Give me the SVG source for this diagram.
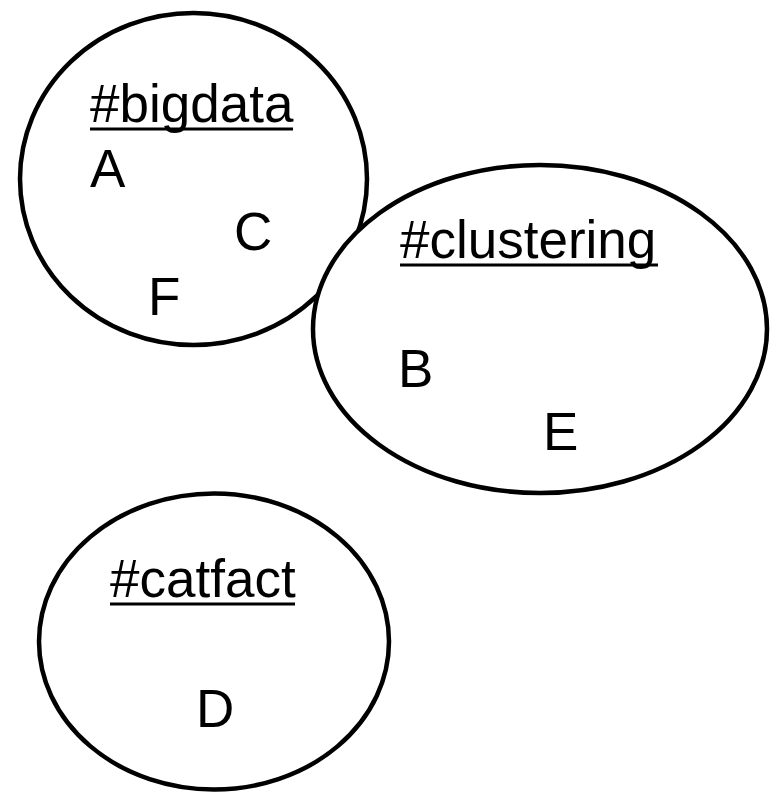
<svg xmlns="http://www.w3.org/2000/svg" width="776" height="796" viewBox="0 0 776 796">
<style>
.set{fill:#fff;stroke:#000;stroke-width:4.5}
.t{font-family:"Liberation Sans",Arial,sans-serif;font-size:53px;fill:#000}
.u{stroke:#000;stroke-width:3}
</style>
<rect width="776" height="796" fill="#fff"/>
<g id="bigdata">
<ellipse class="set" cx="193.5" cy="179" rx="173.5" ry="166"/>
<text class="t" x="90" y="122">#bigdata</text>
<line class="u" x1="90" y1="129" x2="293" y2="129"/>
<text class="t" x="90" y="187">A</text>
<text class="t" x="234" y="250">C</text>
<text class="t" x="148" y="315">F</text>
</g>
<g id="clustering">
<ellipse class="set" cx="540" cy="329" rx="227" ry="164"/>
<text class="t" x="400" y="258">#clustering</text>
<line class="u" x1="400" y1="265" x2="658" y2="265"/>
<text class="t" x="398" y="387">B</text>
<text class="t" x="543" y="450">E</text>
</g>
<g id="catfact">
<ellipse class="set" cx="214" cy="641.5" rx="175" ry="148"/>
<text class="t" x="110" y="597">#catfact</text>
<line class="u" x1="110" y1="604" x2="295" y2="604"/>
<text class="t" x="196" y="727">D</text>
</g>
<g id="connectors"/>
</svg>
